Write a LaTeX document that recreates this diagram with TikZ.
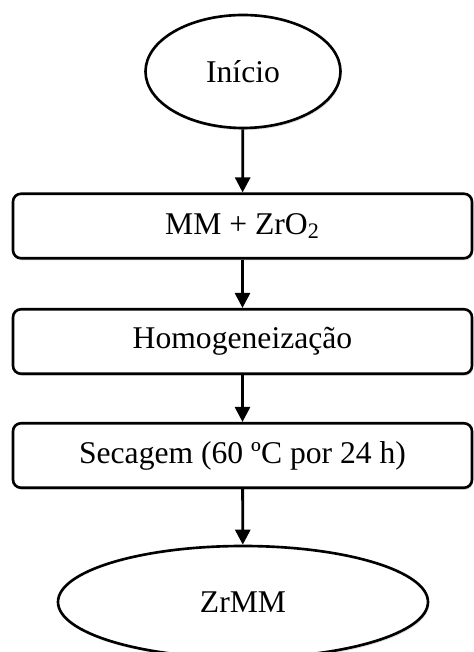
\documentclass[tikz,border=0pt]{standalone}
\usepackage{fontspec}
\setmainfont{Liberation Serif}
\usepackage{tikz}
\usetikzlibrary{shapes,arrows.meta,shadows}

\begin{document}
\begin{tikzpicture}
\tikzstyle{every node}=[draw, line width=1.5pt, fill=white, font=\fontsize{18}{22}\selectfont,
  drop shadow={opacity=0.25, shadow xshift=0.6pt, shadow yshift=-1.2pt}];
\tikzstyle{terminal}=[ellipse, inner sep=0pt];
\tikzstyle{etapa}=[rectangle, rounded corners=0.16cm, minimum width=9.18cm, minimum height=1.29cm];

  \useasboundingbox (0,0) rectangle (9.46,13.04);

  \node[terminal, minimum width=3.9cm, minimum height=2.26cm] (inicio) at (4.86,11.61) {Início};
  \node[etapa] (mistura) at (4.85,8.52) {MM + ZrO\textsubscript{2}};
  \node[etapa] (homog) at (4.85,6.21) {Homogeneização};
  \node[etapa] (secagem) at (4.85,3.93) {Secagem (60 ºC por 24 h)};
  \node[terminal, minimum width=7.4cm, minimum height=2.24cm] (zrmm) at (4.86,1.0) {ZrMM};

  \foreach \from/\to in {inicio/mistura, mistura/homog, homog/secagem, secagem/zrmm}
\draw [-{Triangle[length=0.3cm,width=0.3cm]}, line width=1.6pt] (\from) -- (\to);

\end{tikzpicture}
\end{document}
